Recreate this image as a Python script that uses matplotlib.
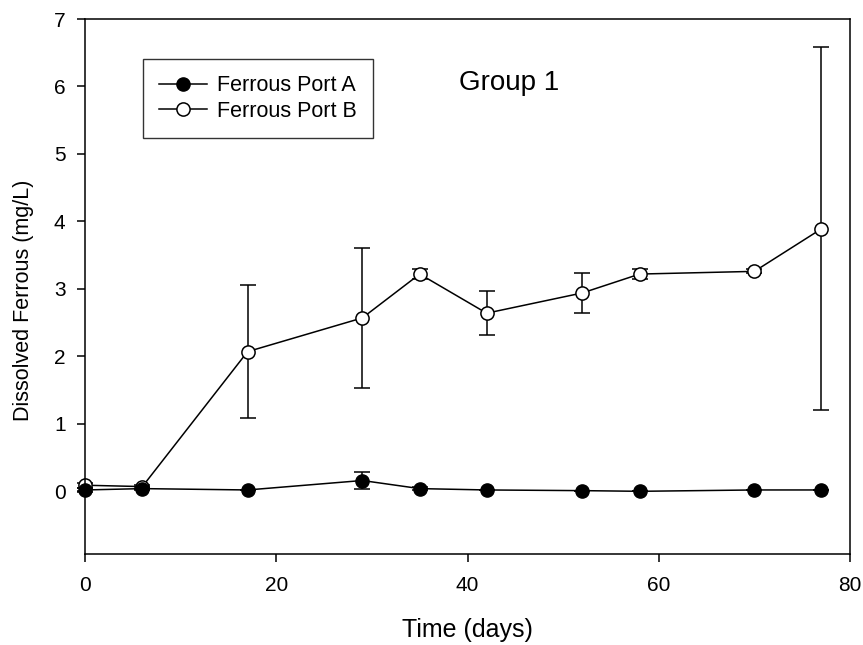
import matplotlib.pyplot as plt
from matplotlib.lines import Line2D

plt.rcParams['font.family'] = ['Liberation Sans', 'DejaVu Sans']

# Data
days = [0, 6, 17, 29, 35, 42, 52, 58, 70, 77]
port_a = [0.02, 0.04, 0.02, 0.16, 0.04, 0.02, 0.01, 0.0, 0.02, 0.02]
port_a_err = [0.03, 0.02, 0.0, 0.12, 0.02, 0.0, 0.0, 0.0, 0.0, 0.0]
port_b = [0.09, 0.07, 2.07, 2.57, 3.22, 2.64, 2.94, 3.22, 3.26, 3.89]
port_b_err = [0.04, 0.03, 0.99, 1.04, 0.07, 0.33, 0.30, 0.08, 0.03, 2.69]

fig = plt.figure(figsize=(8.63, 6.45), dpi=100)
ax = fig.add_axes([0.0985, 0.141, 0.8865, 0.8295])

eb = ax.errorbar(days, port_b, yerr=port_b_err, color='black', lw=1.1,
                 marker='o', ms=9.5, mfc='white', mec='black', mew=1.1,
                 capsize=6, elinewidth=1.1, capthick=1.1, zorder=2)
for art in [eb[0], *eb[1], *eb[2]]:
    art.set_clip_on(False)
eb = ax.errorbar(days, port_a, yerr=port_a_err, color='black', lw=1.1,
                 marker='o', ms=9.5, mfc='black', mec='black',
                 capsize=6, elinewidth=1.1, capthick=1.1, zorder=3)
for art in [eb[0], *eb[1], *eb[2]]:
    art.set_clip_on(False)

ax.set_xlim(0, 80)
ax.set_ylim(-0.93, 7)
ax.set_xticks([0, 20, 40, 60, 80])
ax.set_yticks(range(0, 8))
ax.tick_params(direction='out', length=6, width=1.1, labelsize=15)
ax.tick_params(axis='x', pad=10)
ax.tick_params(axis='y', pad=8)
for s in ax.spines.values():
    s.set_linewidth(1.1)

ax.set_xlabel('Time (days)', fontsize=18)
ax.set_ylabel('Dissolved Ferrous (mg/L)', fontsize=15.5)
ax.xaxis.set_label_coords(0.5, -0.142)
ax.xaxis.label.set_va('center')
ax.yaxis.set_label_coords(-0.08, 0.475)
ax.yaxis.label.set_va('center')

ax.text(44.3, 6.05, 'Group 1', fontsize=20, ha='center', va='center')

handles = [
    Line2D([], [], color='black', lw=1.1, marker='o', ms=9.5, mfc='black', mec='black'),
    Line2D([], [], color='black', lw=1.1, marker='o', ms=9.5, mfc='white', mec='black', mew=1.1),
]
leg = ax.legend(handles, ['Ferrous Port A', 'Ferrous Port B'], loc='upper left',
                bbox_to_anchor=(0.0758, 0.925), fontsize=15.5, frameon=True, fancybox=False,
                edgecolor='black', handlelength=2.2, handletextpad=0.5, borderpad=0.75,
                labelspacing=0.2, borderaxespad=0)
leg.get_frame().set_linewidth(1.0)

plt.savefig('out.png', dpi=100)
